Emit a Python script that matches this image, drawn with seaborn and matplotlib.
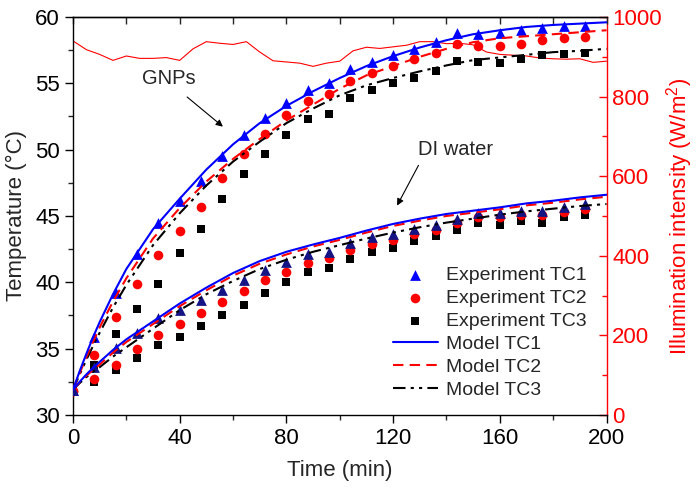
import numpy as np
import pandas as pd
import seaborn as sns
import matplotlib.pyplot as plt
from matplotlib.ticker import MultipleLocator

# experiment sampling (every 8 min)
t_exp = np.arange(0, 193, 8)

gnp_tc1 = [31.9, 35.9, 39.2, 42.1, 44.5, 46.1, 47.6, 49.5, 51.1, 52.4, 53.5, 54.5, 55.0,
           56.05, 56.6, 57.1, 57.6, 58.1, 58.8, 58.7, 58.8, 59.0, 59.2, 59.3, 59.3]
gnp_tc2 = [31.8, 34.5, 37.4, 39.85, 42.05, 43.9, 45.7, 47.9, 49.7, 51.2, 52.6, 53.7, 54.2,
           55.2, 55.8, 56.3, 56.8, 57.3, 58.0, 57.8, 57.8, 58.0, 58.3, 58.4, 58.5]
gnp_tc3 = [31.8, 33.8, 36.1, 37.95, 39.9, 42.2, 44.0, 46.3, 48.2, 49.7, 51.1, 52.3, 52.7,
           53.9, 54.5, 55.0, 55.4, 55.9, 56.7, 56.6, 56.5, 56.8, 57.1, 57.2, 57.3]

di_tc1 = [31.9, 33.6, 35.05, 36.2, 37.3, 37.9, 38.7, 39.45, 40.2, 40.9, 41.5, 42.1, 42.3,
          42.95, 43.4, 43.65, 44.0, 44.35, 44.8, 45.2, 45.2, 45.4, 45.4, 45.7, 45.9]
di_tc2 = [31.8, 32.7, 33.8, 35.0, 36.05, 36.85, 37.65, 38.55, 39.35, 40.15, 40.8, 41.45, 41.8,
          42.45, 42.9, 43.2, 43.65, 43.95, 44.5, 44.9, 44.9, 45.05, 45.05, 45.3, 45.55]
di_tc3 = [31.8, 32.5, 33.4, 34.3, 35.3, 35.9, 36.7, 37.5, 38.3, 39.2, 40.0, 40.75, 41.05,
          41.75, 42.25, 42.6, 43.1, 43.5, 43.95, 44.45, 44.35, 44.6, 44.5, 44.95, 45.1]

# model curves
t_mod = [0, 2.5, 5, 7.5, 10, 15, 20, 30, 40, 50, 60, 70, 80, 90, 100, 110, 120,
         130, 140, 150, 160, 170, 180, 190, 200]
gnp_m1 = [31.9, 33.3, 34.6, 35.85, 37.0, 39.1, 41.0, 44.0, 46.3, 48.5, 50.4, 52.0, 53.3,
          54.4, 55.4, 56.3, 57.05, 57.7, 58.25, 58.7, 59.0, 59.25, 59.4, 59.5, 59.6]
gnp_m2 = [31.9, 33.15, 34.35, 35.5, 36.6, 38.55, 40.3, 43.3, 45.6, 47.6, 49.3, 50.8, 52.2,
          53.4, 54.6, 55.6, 56.3, 57.0, 57.6, 58.1, 58.4, 58.55, 58.7, 58.85, 59.0]
gnp_m3 = [31.9, 33.05, 34.15, 35.2, 36.2, 38.1, 39.8, 42.8, 45.2, 47.3, 49.1, 50.6, 52.0,
          53.1, 54.1, 54.85, 55.4, 55.9, 56.35, 56.75, 56.95, 57.15, 57.35, 57.45, 57.6]
di_m1 = [31.9, 32.5, 33.05, 33.55, 34.0, 34.9, 35.7, 37.05, 38.4, 39.6, 40.7, 41.6, 42.3,
         42.85, 43.35, 43.9, 44.4, 44.8, 45.15, 45.4, 45.65, 45.95, 46.15, 46.4, 46.6]
di_m2 = [31.9, 32.45, 32.95, 33.4, 33.8, 34.7, 35.5, 36.85, 38.2, 39.4, 40.5, 41.4, 42.1,
         42.7, 43.2, 43.75, 44.25, 44.65, 45.0, 45.25, 45.5, 45.8, 46.0, 46.25, 46.45]
di_m3 = [31.9, 32.4, 32.85, 33.25, 33.6, 34.4, 35.1, 36.5, 37.9, 39.1, 40.1, 41.0, 41.7,
         42.3, 42.8, 43.3, 43.75, 44.15, 44.5, 44.8, 45.1, 45.35, 45.55, 45.75, 45.9]

# illumination (every 5 min)
t_ill = np.arange(0, 201, 5)
illum = [940, 918, 906, 891, 902, 896, 896, 898, 891, 920, 938, 934, 931, 938, 912, 890,
         887, 884, 876, 884, 889, 915, 924, 921, 925, 929, 938, 938, 933, 934, 930, 912,
         906, 904, 902, 897, 895, 894, 895, 886, 889]

sns.set_style("ticks")
plt.rcParams['font.family'] = ['Liberation Sans', 'DejaVu Sans']
plt.rcParams['mathtext.default'] = 'regular'

fig, ax = plt.subplots(figsize=(6.99, 4.94), dpi=100)
fig.subplots_adjust(left=0.1044, right=0.8677, bottom=0.16, top=0.9656)
ax2 = ax.twinx()
ax.set_zorder(ax2.get_zorder() + 1)
ax.patch.set_visible(False)

# illumination on right axis
sns.lineplot(x=t_ill, y=illum, ax=ax2, color='red', linewidth=0.8, legend=False)

dashdotdot = (0, (6, 2.5, 1.5, 2.5, 1.5, 2.5))
styles = {
    'TC1': dict(marker='^', color='#0000ff', s=60, ls='-', dcolor='#141485'),
    'TC2': dict(marker='o', color='#ff0000', s=48, ls=(0, (5, 3)), dcolor='#ff0000'),
    'TC3': dict(marker='s', color='black', s=36, ls=dashdotdot, dcolor='black'),
}
exp_sets = {'TC1': (gnp_tc1, di_tc1), 'TC2': (gnp_tc2, di_tc2), 'TC3': (gnp_tc3, di_tc3)}
mod_sets = {'TC1': (gnp_m1, di_m1), 'TC2': (gnp_m2, di_m2), 'TC3': (gnp_m3, di_m3)}

handles = {}
for tc in ['TC3', 'TC2', 'TC1']:
    st = styles[tc]
    g, d = exp_sets[tc]
    sns.scatterplot(x=t_exp, y=g, ax=ax, marker=st['marker'], color=st['color'],
                    s=st['s'], linewidth=0, zorder=3)
    handles['exp' + tc] = ax.collections[-1]
    sns.scatterplot(x=t_exp, y=d, ax=ax, marker=st['marker'], color=st['dcolor'],
                    s=st['s'], linewidth=0, zorder=3)

for tc in ['TC3', 'TC2', 'TC1']:
    st = styles[tc]
    g, d = mod_sets[tc]
    for yv in (g, d):
        sns.lineplot(x=t_mod, y=yv, ax=ax, color=st['color'], linewidth=1.5,
                     linestyle=st['ls'], legend=False, zorder=4)
    handles['mod' + tc] = ax.lines[-1]

order = ['expTC1', 'expTC2', 'expTC3', 'modTC1', 'modTC2', 'modTC3']
labels = ['Experiment TC1', 'Experiment TC2', 'Experiment TC3',
          'Model TC1', 'Model TC2', 'Model TC3']
ax.legend([handles[k] for k in order], labels, loc='lower right',
          bbox_to_anchor=(0.98, 0.015), frameon=False, fontsize=14,
          handlelength=2.3, handletextpad=0.4, labelspacing=0.28, borderpad=0)

# annotations
ax.text(36, 55.4, 'GNPs', fontsize=14.5, ha='center', va='center')
ax.annotate('', xy=(57, 51.6), xytext=(42, 54.1),
            arrowprops=dict(arrowstyle='-|>', color='black', lw=0.8, mutation_scale=10))
ax.text(143.5, 50.0, 'DI water', fontsize=14.5, ha='center', va='center')
ax.annotate('', xy=(121, 45.6), xytext=(130, 49.0),
            arrowprops=dict(arrowstyle='-|>', color='black', lw=0.8, mutation_scale=10))

# left / bottom axes
ax.set_xlim(0, 200)
ax.set_ylim(30, 60)
ax.xaxis.set_major_locator(MultipleLocator(40))
ax.xaxis.set_minor_locator(MultipleLocator(20))
ax.yaxis.set_major_locator(MultipleLocator(5))
ax.yaxis.set_minor_locator(MultipleLocator(2.5))
ax.tick_params(which='major', direction='out', length=6, width=1, labelsize=16, colors='black')
ax.tick_params(which='minor', direction='out', length=3.5, width=1)
ax.set_xlabel('Time (min)', fontsize=16, labelpad=8)
ax.set_ylabel('Temperature (°C)', fontsize=16, labelpad=6)
for sp in ['left', 'bottom', 'top']:
    ax.spines[sp].set_linewidth(1)
    ax.spines[sp].set_color('black')
ax.spines['right'].set_visible(False)

top = ax.secondary_xaxis('top')
top.set_xticks(np.arange(0, 201, 20))
top.tick_params(direction='in', length=5, width=1, labeltop=False)
top.spines['top'].set_linewidth(1)

# right axis
ax2.set_ylim(0, 1000)
ax2.yaxis.set_major_locator(MultipleLocator(200))
ax2.yaxis.set_minor_locator(MultipleLocator(100))
ax2.tick_params(axis='y', which='major', direction='in', length=6, width=1,
                colors='red', labelsize=16, pad=4)
ax2.tick_params(axis='y', which='minor', direction='in', length=3.5, width=1, colors='red')
ax2.set_ylabel('Illumination intensity (W/m$^2$)', color='red', fontsize=16, labelpad=2)
ax2.spines['right'].set_color('red')
ax2.spines['right'].set_linewidth(1)
for sp in ['left', 'top', 'bottom']:
    ax2.spines[sp].set_visible(False)

fig.savefig('out.png', dpi=100)
